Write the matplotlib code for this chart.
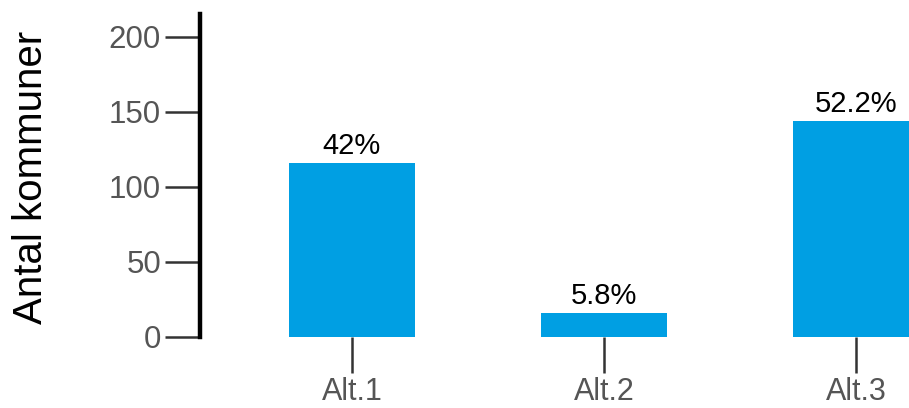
import matplotlib
matplotlib.use("Agg")
import matplotlib.pyplot as plt
import numpy as np

categories = ["Alt.1", "Alt.2", "Alt.3"]
counts = [116, 16, 144]
labels = ["42%", "5.8%", "52.2%"]
yticks = [0, 50, 100, 150, 200]

plt.rcParams['font.family'] = ['Liberation Sans', 'DejaVu Sans']

fig = plt.figure(figsize=(9.09, 4.08), dpi=100)
ax = fig.add_axes([200 / 909, 71 / 408, 709 / 909, 323 / 408])

x = np.arange(len(categories))
bars = ax.bar(x, counts, width=0.5, color="#009FE3")

for b, lab in zip(bars, labels):
    ax.text(b.get_x() + b.get_width() / 2, b.get_height() + 2, lab,
            ha="center", va="bottom", fontsize=21, color="black")

ax.set_xlim(-0.603, 2.21)
ax.set_ylim(0, 215)
ax.set_xticks(x)
ax.set_xticklabels(categories)
ax.set_yticks(yticks)

for s in ["top", "right", "bottom"]:
    ax.spines[s].set_visible(False)
ax.spines["left"].set_linewidth(3.2)
ax.spines["left"].set_color("black")

ax.tick_params(axis="y", length=25, width=1.8, color="#333333",
               labelsize=22.5, labelcolor="#555555", pad=3)
ax.tick_params(axis="x", length=26, width=1.8, color="#333333",
               labelsize=22, labelcolor="#555555", pad=3)

ax.set_ylabel("Antal kommuner", fontsize=29, color="black")
ax.yaxis.set_label_coords(-0.212, 0.495)

fig.savefig("out.png", dpi=100)
